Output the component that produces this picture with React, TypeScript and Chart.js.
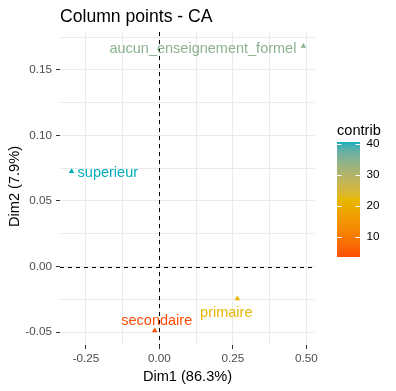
import React, { useEffect, useRef } from 'react';
import { Chart, registerables } from 'chart.js';

Chart.register(...registerables);

// ---- data ----
const categories = ['aucun_enseignement_formel', 'superieur', 'primaire', 'secondaire'];
const dim1Values = [0.49, -0.299, 0.265, -0.016];
const dim2Values = [0.168, 0.0725, -0.0245, -0.049];
const contribValues = [34.5, 40.6, 21.4, 3.5];
const xMajorTicks = [-0.25, 0, 0.25, 0.5];
const yMajorTicks = [-0.05, 0, 0.05, 0.1, 0.15];
const legendTicks = [10, 20, 30, 40];
const titleText = 'Column points - CA';
const xTitleText = 'Dim1 (86.3%)';
const yTitleText = 'Dim2 (7.9%)';
const legendTitleText = 'contrib';
const gradientColors = ['#FC4E07', '#E7B800', '#00AFBB']; // low -> high

// label placement relative to each point (ggrepel-like)
const labelPlacement = [
  { dx: -7, dy: 3, align: 'right' },
  { dx: 6, dy: 2, align: 'left' },
  { dx: -11, dy: 14, align: 'center' },
  { dx: 2, dy: -10, align: 'center' },
];

const FONT = '"Liberation Sans", Arial, sans-serif';

// ---- colour helpers (CIELAB interpolation like ggplot) ----
function hexToRgb(h: string) {
  const n = parseInt(h.slice(1), 16);
  return [(n >> 16) & 255, (n >> 8) & 255, n & 255];
}
function toLin(c: number) {
  c /= 255;
  return c <= 0.04045 ? c / 12.92 : Math.pow((c + 0.055) / 1.055, 2.4);
}
function fromLin(c: number) {
  const v = c <= 0.0031308 ? 12.92 * c : 1.055 * Math.pow(c, 1 / 2.4) - 0.055;
  return Math.max(0, Math.min(255, Math.round(v * 255)));
}
const Xn = 0.95047, Yn = 1, Zn = 1.08883;
function f(t: number) { return t > 0.008856 ? Math.cbrt(t) : 7.787 * t + 16 / 116; }
function finv(t: number) { return t > 0.206893 ? t * t * t : (t - 16 / 116) / 7.787; }
function rgbToLab(rgb: number[]) {
  const r = toLin(rgb[0]), g = toLin(rgb[1]), b = toLin(rgb[2]);
  const X = 0.4124 * r + 0.3576 * g + 0.1805 * b;
  const Y = 0.2126 * r + 0.7152 * g + 0.0722 * b;
  const Z = 0.0193 * r + 0.1192 * g + 0.9505 * b;
  const fx = f(X / Xn), fy = f(Y / Yn), fz = f(Z / Zn);
  return [116 * fy - 16, 500 * (fx - fy), 200 * (fy - fz)];
}
function labToRgb(lab: number[]) {
  const fy = (lab[0] + 16) / 116;
  const fx = fy + lab[1] / 500;
  const fz = fy - lab[2] / 200;
  const X = finv(fx) * Xn, Y = finv(fy) * Yn, Z = finv(fz) * Zn;
  const r = 3.2406 * X - 1.5372 * Y - 0.4986 * Z;
  const g = -0.9689 * X + 1.8758 * Y + 0.0415 * Z;
  const b = 0.0557 * X - 0.204 * Y + 1.057 * Z;
  return [fromLin(r), fromLin(g), fromLin(b)];
}
const gradLabs = gradientColors.map((c) => rgbToLab(hexToRgb(c)));
const cMin = Math.min(...contribValues);
const cMax = Math.max(...contribValues);
function colorFor(v: number) {
  let t = (v - cMin) / (cMax - cMin);
  t = Math.max(0, Math.min(1, t));
  const seg = t * (gradLabs.length - 1);
  const i = Math.min(gradLabs.length - 2, Math.floor(seg));
  const u = seg - i;
  const a = gradLabs[i], b = gradLabs[i + 1];
  const lab = [a[0] + (b[0] - a[0]) * u, a[1] + (b[1] - a[1]) * u, a[2] + (b[2] - a[2]) * u];
  const rgb = labToRgb(lab);
  return `rgb(${rgb[0]},${rgb[1]},${rgb[2]})`;
}

// ---- axis limits (ggplot-like 5% expansion) ----
function expand(vals: number[]) {
  const mn = Math.min(...vals), mx = Math.max(...vals);
  const r = mx - mn;
  return [mn - 0.05 * r, mx + 0.05 * r];
}
const [xMin, xMax] = expand(dim1Values);
const [yMin, yMax] = expand(dim2Values);

function allGridTicks(majors: number[], lo: number, hi: number) {
  const step = majors[1] - majors[0];
  const out: number[] = [];
  for (let k = -1; k <= majors.length; k++) {
    const m = majors[0] + k * step;
    out.push(m, m + step / 2);
  }
  return out.filter((v) => v >= lo - 1e-9 && v <= hi + 1e-9).sort((a, b) => a - b);
}
const isMajor = (v: number, majors: number[]) => majors.some((m) => Math.abs(m - v) < 1e-9);
const fmt = (v: number) => (Math.abs(v) < 1e-9 ? 0 : v).toFixed(2);

const pointColors = contribValues.map(colorFor);

const decorPlugin = {
  id: 'decor',
  beforeDatasetsDraw(chart: any) {
    const { ctx, chartArea, scales } = chart;
    const x0 = Math.round(scales.x.getPixelForValue(0)) + 0.5;
    const y0 = Math.round(scales.y.getPixelForValue(0)) + 0.5;
    ctx.save();
    ctx.strokeStyle = '#000000';
    ctx.lineWidth = 1;
    ctx.setLineDash([4, 4]);
    ctx.beginPath();
    ctx.moveTo(x0, chartArea.top);
    ctx.lineTo(x0, chartArea.bottom);
    ctx.moveTo(chartArea.left, y0);
    ctx.lineTo(chartArea.right, y0);
    ctx.stroke();
    ctx.restore();
  },
  afterDraw(chart: any) {
    const { ctx, chartArea, scales } = chart;
    ctx.save();
    // title
    ctx.fillStyle = '#000000';
    ctx.font = `17.6px ${FONT}`;
    ctx.textAlign = 'left';
    ctx.textBaseline = 'middle';
    ctx.fillText(titleText, chartArea.left, 17);
    // axis titles
    ctx.font = `14.6px ${FONT}`;
    ctx.textAlign = 'center';
    ctx.fillText(xTitleText, (chartArea.left + chartArea.right) / 2, 377);
    ctx.save();
    ctx.translate(15, (chartArea.top + chartArea.bottom) / 2 - 2);
    ctx.rotate(-Math.PI / 2);
    ctx.fillText(yTitleText, 0, 0);
    ctx.restore();
    // point labels
    ctx.font = `14.5px ${FONT}`;
    categories.forEach((name, i) => {
      const px = scales.x.getPixelForValue(dim1Values[i]);
      const py = scales.y.getPixelForValue(dim2Values[i]);
      const p = labelPlacement[i];
      ctx.fillStyle = pointColors[i];
      ctx.textAlign = p.align;
      ctx.textBaseline = 'middle';
      ctx.fillText(name, px + p.dx, py + p.dy);
    });
    // legend (colour bar)
    const barX = 337, barW = 23, barTop = 142, barBot = 257;
    const vy = (v: number) => barBot - ((v - cMin) / (cMax - cMin)) * (barBot - barTop);
    for (let y = barTop; y < barBot; y += 1) {
      const v = cMin + ((barBot - (y + 0.5)) / (barBot - barTop)) * (cMax - cMin);
      ctx.fillStyle = colorFor(v);
      ctx.fillRect(barX, y, barW, 1);
    }
    ctx.strokeStyle = '#FFFFFF';
    ctx.lineWidth = 1;
    legendTicks.forEach((t) => {
      const y = Math.round(vy(t)) + 0.5;
      ctx.beginPath();
      ctx.moveTo(barX, y);
      ctx.lineTo(barX + 4.5, y);
      ctx.moveTo(barX + barW - 4.5, y);
      ctx.lineTo(barX + barW, y);
      ctx.stroke();
    });
    ctx.fillStyle = '#000000';
    ctx.font = `11.7px ${FONT}`;
    ctx.textAlign = 'left';
    ctx.textBaseline = 'middle';
    legendTicks.forEach((t) => ctx.fillText(String(t), 366.5, vy(t)));
    ctx.font = `14.6px ${FONT}`;
    ctx.fillText(legendTitleText, barX, 131);
    ctx.restore();
  },
};

export default function App() {
  const ref = useRef<HTMLCanvasElement | null>(null);
  useEffect(() => {
    if (!ref.current) return;
    const xGrid = allGridTicks(xMajorTicks, xMin, xMax);
    const yGrid = allGridTicks(yMajorTicks, yMin, yMax);
    const tickFont = { family: FONT, size: 11.7 };
    const chart = new Chart(ref.current, {
      type: 'scatter',
      data: {
        datasets: [
          {
            data: dim1Values.map((x, i) => ({ x, y: dim2Values[i] })),
            backgroundColor: pointColors,
            pointStyle: 'triangle',
            pointRadius: 3.2,
            pointBorderWidth: 0,
            borderWidth: 0,
          },
        ],
      },
      options: {
        responsive: false,
        animation: false,
        devicePixelRatio: 1,
        layout: { padding: { top: 32, right: 81, left: 0, bottom: 0 } },
        plugins: { legend: { display: false }, tooltip: { enabled: false }, title: { display: false } },
        scales: {
          x: {
            type: 'linear',
            min: xMin,
            max: xMax,
            afterFit: (s: any) => { s.height = 46; },
            afterBuildTicks: (s: any) => { s.ticks = xGrid.map((v) => ({ value: v })); },
            border: { display: false },
            grid: {
              color: '#EBEBEB',
              lineWidth: 1,
              tickLength: 4,
              tickColor: (c: any) => (isMajor(c.tick?.value, xMajorTicks) ? '#333333' : 'rgba(0,0,0,0)'),
            },
            ticks: {
              autoSkip: false,
              maxRotation: 0,
              padding: 3,
              color: '#4D4D4D',
              font: tickFont,
              callback: (v: any) => (isMajor(Number(v), xMajorTicks) ? fmt(Number(v)) : ''),
            },
          },
          y: {
            type: 'linear',
            min: yMin,
            max: yMax,
            afterFit: (s: any) => { s.width = 60; },
            afterBuildTicks: (s: any) => { s.ticks = yGrid.map((v) => ({ value: v })); },
            border: { display: false },
            grid: {
              color: '#EBEBEB',
              lineWidth: 1,
              tickLength: 4,
              tickColor: (c: any) => (isMajor(c.tick?.value, yMajorTicks) ? '#333333' : 'rgba(0,0,0,0)'),
            },
            ticks: {
              autoSkip: false,
              padding: 4,
              color: '#4D4D4D',
              font: tickFont,
              callback: (v: any) => (isMajor(Number(v), yMajorTicks) ? fmt(Number(v)) : ''),
            },
          },
        },
      },
      plugins: [decorPlugin],
    } as any);
    return () => chart.destroy();
  }, []);
  return (
    <div style={{ position: 'absolute', left: 0, top: 0, width: 396, height: 391, background: '#FFFFFF' }}>
      <canvas ref={ref} width={396} height={391} style={{ width: 396, height: 391, display: 'block' }} />
    </div>
  );
}
